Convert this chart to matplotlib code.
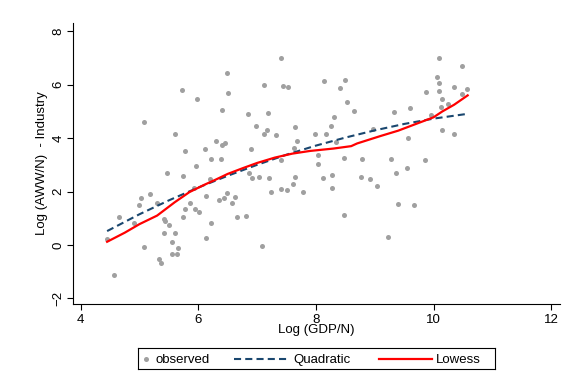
import numpy as np
import matplotlib
matplotlib.use("Agg")
import matplotlib.pyplot as plt

# observed points
gdp = [7.40, 6.48, 5.72, 6.50, 7.11, 7.44, 7.53, 5.98, 6.41, 6.84, 7.18, 5.08, 5.61, 6.98, 7.16,
       7.11, 7.32, 7.64, 7.98, 7.67, 6.30, 6.41, 6.46, 5.77, 6.11, 6.90, 8.04, 6.21, 6.39, 7.40,
       8.04, 5.96, 5.46, 5.74, 6.86, 6.92, 7.04, 7.20, 7.64, 7.61, 7.40, 7.50, 7.78, 7.23, 5.02,
       5.18, 5.00, 5.29, 4.66, 4.91, 4.44, 4.56, 5.08, 5.42, 5.43, 5.50, 5.41, 5.60, 5.55, 5.65,
       5.55, 5.64, 5.34, 5.36, 5.74, 5.78, 5.86, 5.95, 6.02, 5.93, 6.13, 6.22, 6.13, 6.35, 6.44,
       6.48, 6.57, 6.63, 6.66, 6.81, 7.09, 6.20, 8.14, 8.41, 8.30, 8.26, 8.18, 7.62, 10.09, 10.48,
       8.49, 10.06, 10.09, 10.09, 10.34, 10.57, 10.49, 9.88, 10.14, 10.25, 10.13, 8.53, 8.64, 9.32,
       9.60, 8.97, 9.95, 10.14, 10.35, 9.56, 8.35, 8.48, 8.79, 9.28, 9.86, 9.37, 9.55, 8.28, 8.12,
       8.76, 8.92, 9.04, 8.27, 9.39, 9.67, 8.48, 9.23]
aww = [7.00, 6.42, 5.80, 5.69, 6.00, 5.95, 5.91, 5.45, 5.06, 4.91, 4.95, 4.60, 4.17, 4.44, 4.32,
       4.17, 4.10, 4.40, 4.14, 3.91, 3.91, 3.76, 3.82, 3.52, 3.60, 3.60, 3.35, 3.21, 3.21, 3.19,
       3.05, 2.97, 2.70, 2.59, 2.69, 2.51, 2.56, 2.51, 2.55, 2.28, 2.09, 2.05, 2.00, 2.00, 1.77,
       1.89, 1.50, 1.57, 1.04, 0.81, 0.22, -1.14, -0.09, 0.96, 0.89, 0.76, 0.46, 0.46, 0.11, -0.12,
       -0.33, -0.33, -0.54, -0.66, 1.04, 1.34, 1.57, 1.34, 1.23, 2.14, 1.85, 0.81, 0.25, 1.69, 1.76,
       1.96, 1.57, 1.81, 1.04, 1.08, -0.05, 2.47, 6.15, 5.88, 4.79, 4.44, 4.17, 3.63, 7.00, 6.69,
       6.19, 6.30, 6.06, 5.76, 5.91, 5.84, 5.64, 5.72, 5.48, 5.29, 5.17, 5.37, 5.02, 4.99,
       5.14, 4.36, 4.87, 4.29, 4.17, 4.02, 3.84, 3.24, 3.21, 3.21, 3.17, 2.70, 2.89, 2.62, 2.51,
       2.55, 2.47, 2.20, 2.12, 1.54, 1.50, 1.11, 0.30]

# fitted curves
quad_x = [4.45, 5.0, 5.5, 6.0, 6.5, 7.0, 7.5, 8.0, 8.5, 9.0, 9.5, 10.0, 10.58]
quad_y = [0.52, 1.15, 1.67, 2.15, 2.59, 3.00, 3.38, 3.72, 4.02, 4.29, 4.53, 4.73, 4.91]

low_x = [4.45, 4.75, 5.0, 5.3, 5.6, 5.85, 6.1, 6.3, 6.5, 6.75, 7.0, 7.3, 7.6, 7.9, 8.3,
         8.6, 8.7, 9.1, 9.4, 9.7, 10.0, 10.15, 10.35, 10.58]
low_y = [0.12, 0.46, 0.78, 1.10, 1.60, 1.98, 2.25, 2.45, 2.66, 2.87, 3.07, 3.27, 3.42, 3.52, 3.61,
         3.70, 3.80, 4.08, 4.28, 4.53, 4.78, 5.00, 5.25, 5.60]

xticks = [4, 6, 8, 10, 12]
yticks = [-2, 0, 2, 4, 6, 8]

plt.rcParams['font.family'] = ['Liberation Sans', 'DejaVu Sans']
plt.rcParams['font.size'] = 9.5

navy = '#1a476f'
grey = '#a0a0a0'

fig = plt.figure(figsize=(5.78, 3.79), dpi=100)
ax = fig.add_axes([73/578, 1-304/379, (560-73)/578, (304-23)/379])

ax.scatter(gdp, aww, s=13, color=grey, linewidths=0, zorder=2)
ax.plot(quad_x, quad_y, color=navy, lw=1.5, dashes=(3.4, 2.0), zorder=3)
ax.plot(low_x, low_y, color='red', lw=1.6, zorder=4)

ax.set_xlim(3.87, 12.15)
ax.set_ylim(-2.21, 8.31)
ax.set_xticks(xticks)
ax.set_yticks(yticks)
for s in ['top', 'right']:
    ax.spines[s].set_visible(False)
ax.spines['left'].set_linewidth(0.8)
ax.spines['bottom'].set_linewidth(0.8)
ax.tick_params(length=4, width=0.8)
ax.tick_params(axis='x', pad=3)
ax.tick_params(axis='y', pad=2)
for lab in ax.get_yticklabels():
    lab.set_rotation(90)
    lab.set_va('center')
ax.set_xlabel('Log (GDP/N)', labelpad=-1)
ax.set_ylabel('Log (AWW/N)  - Industry', labelpad=3)

# legend box drawn by hand so keys sit like the original
lax = fig.add_axes([138/578, 1-369/379, (495-138)/578, 21/379])
lax.set_xlim(138, 495)
lax.set_ylim(0, 1)
lax.set_xticks([])
lax.set_yticks([])
for s in lax.spines.values():
    s.set_linewidth(0.8)
lax.scatter([146], [0.5], s=13, color=grey, linewidths=0)
lax.text(156, 0.5, 'observed', va='center_baseline')
lax.plot([234, 289], [0.5, 0.5], color=navy, lw=1.5, dashes=(3.4, 2.0))
lax.text(293, 0.5, 'Quadratic', va='center_baseline')
lax.plot([379, 432], [0.5, 0.5], color='red', lw=1.6)
lax.text(436, 0.5, 'Lowess', va='center_baseline')

fig.savefig('out.png', dpi=100)
